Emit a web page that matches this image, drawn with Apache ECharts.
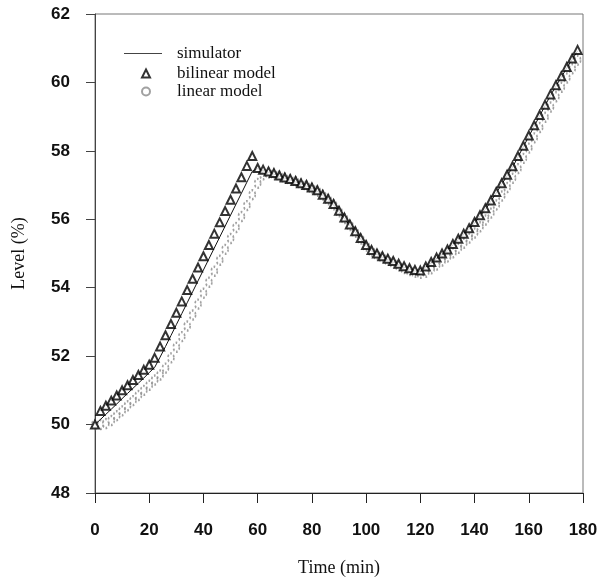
<!DOCTYPE html>
<html>
<head>
<meta charset="utf-8">
<script src="https://cdn.jsdelivr.net/npm/echarts@6/dist/echarts.min.js"></script>
<style>
  html, body { margin: 0; padding: 0; background: #fff; }
  #chart { width: 601px; height: 582px; }
</style>
</head>
<body>
<div id="chart"></div>
<script>
// time stamps (min), one sample every 2 min
const times = [
  0, 2, 4, 6, 8, 10, 12, 14, 16, 18, 20, 22, 24, 26, 28, 30, 32, 34, 36, 38,
  40, 42, 44, 46, 48, 50, 52, 54, 56, 58, 60, 62, 64, 66, 68, 70, 72, 74, 76, 78,
  80, 82, 84, 86, 88, 90, 92, 94, 96, 98, 100, 102, 104, 106, 108, 110, 112, 114, 116, 118,
  120, 122, 124, 126, 128, 130, 132, 134, 136, 138, 140, 142, 144, 146, 148, 150, 152, 154, 156, 158,
  160, 162, 164, 166, 168, 170, 172, 174, 176, 178
];

const simulator = [
  50.00, 50.15, 50.30, 50.45, 50.60, 50.76, 50.91, 51.06, 51.21, 51.36, 51.52, 51.67, 51.97, 52.28, 52.60, 52.92, 53.24, 53.56, 53.88, 54.20,
  54.52, 54.84, 55.16, 55.48, 55.80, 56.12, 56.44, 56.76, 57.08, 57.40, 57.48, 57.42, 57.37, 57.32, 57.26, 57.20, 57.15, 57.09, 57.03, 56.97,
  56.90, 56.82, 56.70, 56.57, 56.42, 56.22, 56.02, 55.82, 55.62, 55.42, 55.22, 55.07, 54.97, 54.89, 54.82, 54.75, 54.67, 54.60, 54.54, 54.49,
  54.47, 54.59, 54.72, 54.85, 54.97, 55.09, 55.25, 55.40, 55.55, 55.71, 55.89, 56.09, 56.29, 56.52, 56.77, 57.02, 57.27, 57.52, 57.82, 58.12,
  58.42, 58.72, 59.02, 59.32, 59.62, 59.89, 60.15, 60.42, 60.67, 60.92
];

const bilinear = [
  50.00, 50.40, 50.55, 50.70, 50.85, 51.00, 51.15, 51.30, 51.45, 51.60, 51.75, 51.95, 52.28, 52.61, 52.94, 53.27, 53.60, 53.93, 54.26, 54.59,
  54.92, 55.25, 55.58, 55.91, 56.24, 56.57, 56.90, 57.23, 57.56, 57.85, 57.50, 57.45, 57.40, 57.35, 57.28, 57.22, 57.18, 57.12, 57.05, 57.00,
  56.93, 56.85, 56.72, 56.60, 56.45, 56.25, 56.05, 55.85, 55.65, 55.45, 55.25, 55.10, 55.00, 54.92, 54.85, 54.78, 54.70, 54.63, 54.57, 54.52,
  54.50, 54.62, 54.75, 54.88, 55.00, 55.12, 55.28, 55.43, 55.58, 55.74, 55.92, 56.12, 56.32, 56.55, 56.80, 57.05, 57.30, 57.55, 57.85, 58.15,
  58.45, 58.75, 59.05, 59.35, 59.65, 59.92, 60.18, 60.45, 60.70, 60.95
];

const linear = [
  50.00, 50.00, 50.03, 50.12, 50.26, 50.40, 50.55, 50.70, 50.85, 51.00, 51.15, 51.30, 51.45, 51.65, 51.95, 52.26, 52.57, 52.88, 53.20, 53.52,
  53.84, 54.16, 54.48, 54.80, 55.12, 55.44, 55.76, 56.08, 56.40, 56.72, 57.05, 57.30, 57.35, 57.32, 57.26, 57.20, 57.15, 57.10, 57.03, 56.97,
  56.90, 56.82, 56.70, 56.57, 56.42, 56.22, 56.02, 55.82, 55.62, 55.42, 55.22, 55.06, 54.96, 54.88, 54.80, 54.72, 54.64, 54.56, 54.50, 54.45,
  54.42, 54.45, 54.55, 54.66, 54.78, 54.90, 55.02, 55.15, 55.30, 55.45, 55.60, 55.78, 55.98, 56.18, 56.42, 56.68, 56.93, 57.20, 57.48, 57.78,
  58.08, 58.38, 58.68, 58.98, 59.28, 59.58, 59.86, 60.13, 60.40, 60.65
];

const xTicks = [0, 20, 40, 60, 80, 100, 120, 140, 160, 180];
const yTicks = [48, 50, 52, 54, 56, 58, 60, 62];

const pair = (ys) => times.map((t, i) => [t, ys[i]]);

const serif = '"Liberation Serif", "DejaVu Serif", serif';
const sans = '"Liberation Sans", Arial, sans-serif';

const chart = echarts.init(document.getElementById('chart'));

chart.setOption({
  animation: false,
  backgroundColor: '#fff',
  grid: {
    left: 95, right: 18, top: 14, bottom: 79,
    show: true, borderColor: '#777', borderWidth: 1, backgroundColor: 'transparent'
  },
  legend: [
    {
      data: [{ name: 'simulator', icon: 'path://M0,0 L40,0 L40,1 L0,1 Z' }],
      left: 119, top: 40,
      itemWidth: 38, itemHeight: 1,
      itemStyle: { color: '#444' },
      textStyle: { fontFamily: serif, fontSize: 17, color: '#111', padding: [0, 0, 0, 10] }
    },
    {
      data: [
        { name: 'bilinear model', icon: 'emptyTriangle' },
        { name: 'linear model', icon: 'emptyCircle' }
      ],
      orient: 'vertical',
      left: 136, top: 60,
      itemWidth: 8, itemHeight: 8, itemGap: 1,
      textStyle: { fontFamily: serif, fontSize: 17, color: '#111', padding: [0, 0, 0, 22] }
    }
  ],
  xAxis: {
    type: 'value',
    min: 0, max: 180, interval: 20,
    name: 'Time (min)',
    nameLocation: 'middle',
    nameGap: 66,
    nameTextStyle: { fontFamily: serif, fontSize: 18, color: '#111' },
    axisLine: { lineStyle: { color: '#222', width: 1 } },
    axisTick: { inside: false, length: 10, lineStyle: { color: '#222' } },
    axisLabel: {
      margin: 29, fontFamily: sans, fontWeight: 'bold', fontSize: 17, color: '#111',
      formatter: (v) => xTicks.includes(v) ? String(v) : ''
    },
    splitLine: { show: false }
  },
  yAxis: {
    type: 'value',
    min: 48, max: 62, interval: 2,
    name: 'Level (%)',
    nameLocation: 'middle',
    nameGap: 67,
    nameRotate: 90,
    nameTextStyle: { fontFamily: serif, fontSize: 18, color: '#111' },
    axisLine: { show: true, lineStyle: { color: '#444', width: 1 } },
    axisTick: { inside: false, length: 9, lineStyle: { color: '#444' } },
    axisLabel: {
      margin: 25, fontFamily: sans, fontWeight: 'bold', fontSize: 17, color: '#111',
      formatter: (v) => yTicks.includes(v) ? String(v) : ''
    },
    splitLine: { show: false }
  },
  series: [
    {
      name: 'simulator',
      type: 'line',
      data: pair(simulator),
      symbol: 'none',
      lineStyle: { color: '#111', width: 1 },
      itemStyle: { color: '#111' },
      z: 3
    },
    {
      name: 'linear model',
      type: 'scatter',
      data: pair(linear),
      symbol: 'emptyCircle',
      symbolSize: [6, 9],
      itemStyle: { color: '#8a8a8a', borderWidth: 1, borderType: 'dotted' },
      z: 2
    },
    {
      name: 'bilinear model',
      type: 'scatter',
      data: pair(bilinear),
      symbol: 'emptyTriangle',
      symbolSize: 8,
      itemStyle: { color: '#000', borderWidth: 1.2 },
      z: 4
    }
  ]
});
</script>
</body>
</html>
